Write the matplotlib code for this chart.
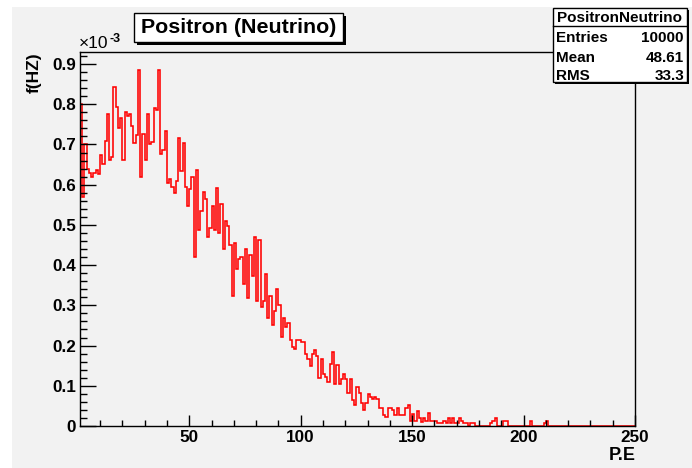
import numpy as np
import matplotlib
matplotlib.use("Agg")
import matplotlib.pyplot as plt
from matplotlib.patches import Rectangle
from matplotlib.ticker import MultipleLocator, FuncFormatter

plt.rcParams['font.family'] = ['Liberation Sans', 'DejaVu Sans']

# histogram contents, units of 1e-3 Hz, one bin per P.E starting at 1
rate_1_36 = [0.80, 0.57, 0.70, 0.64, 0.628, 0.62, 0.628, 0.637, 0.626, 0.674,
             0.651, 0.709, 0.776, 0.662, 0.668, 0.842, 0.794, 0.742, 0.765, 0.662,
             0.782, 0.771, 0.775, 0.746, 0.703, 0.724, 0.886, 0.620, 0.726, 0.662,
             0.776, 0.701, 0.706, 0.790, 0.785, 0.886]
rate_37_72 = [0.676, 0.687, 0.734, 0.604, 0.614, 0.595, 0.579, 0.608, 0.715, 0.633,
              0.703, 0.595, 0.548, 0.590, 0.618, 0.421, 0.637, 0.487, 0.535, 0.583,
              0.565, 0.469, 0.492, 0.546, 0.487, 0.593, 0.481, 0.552, 0.440, 0.510,
              0.498, 0.450, 0.323, 0.456, 0.391, 0.415]
rate_73_113 = [0.420, 0.353, 0.440, 0.318, 0.426, 0.372, 0.469, 0.311, 0.463, 0.295,
               0.311, 0.377, 0.268, 0.323, 0.251, 0.286, 0.341, 0.300, 0.221, 0.268,
               0.245, 0.257, 0.214, 0.197, 0.191, 0.214, 0.214, 0.208, 0.208, 0.179,
               0.166, 0.150, 0.179, 0.189, 0.173, 0.119, 0.166, 0.130, 0.123, 0.110,
               0.153]
rate_114_175 = [0.183, 0.104, 0.152, 0.104, 0.116, 0.129, 0.116, 0.081, 0.116, 0.065,
                0.051, 0.098, 0.083, 0.056, 0.041, 0.058, 0.080, 0.073, 0.067, 0.071,
                0.067, 0.046, 0.046, 0.028, 0.022, 0.046, 0.046, 0.040, 0.027, 0.044,
                0.027, 0.027, 0.027, 0.046, 0.051, 0.013, 0.030, 0.013, 0.038, 0.019,
                0.011, 0.019, 0.013, 0.032, 0.013, 0.013, 0.013, 0.0065, 0.0065, 0.0065,
                0.013, 0.0065, 0.019, 0.0065, 0.019, 0.0065, 0.0065, 0.019, 0.013, 0.0065,
                0.0065, 0.0]
rate_176_249 = [0.0065, 0.0065, 0, 0, 0, 0, 0, 0, 0, 0.0065,
                0.013, 0.0195, 0, 0, 0, 0.013, 0.013, 0, 0, 0,
                0, 0, 0, 0, 0, 0, 0, 0.013, 0, 0,
                0, 0, 0, 0.0065, 0.013, 0, 0, 0, 0, 0,
                0, 0, 0, 0, 0, 0, 0, 0, 0, 0,
                0, 0, 0, 0, 0, 0, 0, 0, 0, 0,
                0, 0, 0, 0, 0, 0, 0, 0, 0, 0,
                0, 0, 0, 0]

title = "Positron (Neutrino)"
stats_name = "PositronNeutrino"
stats_rows = [("Entries", "10000"), ("Mean", "48.61"), ("RMS", "33.3")]

rates = np.array(rate_1_36 + rate_37_72 + rate_73_113 + rate_114_175 + rate_176_249) * 1e-3
edges = np.arange(1, len(rates) + 2)

W, H = 692, 468
BG = '#f2f2f2'

fig = plt.figure(figsize=(W / 100, H / 100), dpi=100, facecolor='white')
fig.patches.append(Rectangle((12 / W, 0), (W - 12) / W, (H - 7) / H, transform=fig.transFigure,
                             facecolor=BG, edgecolor='none', zorder=-10))


def fx(px):
    return px / W


def fy(py):
    return 1 - py / H


ax = fig.add_axes([fx(80), fy(426), (635 - 80) / W, (426 - 52) / H])
ax.set_facecolor(BG)
ax.stairs(rates, edges, color='red', lw=1.15, baseline=0)
ax.set_xlim(1, 250)
ax.set_ylim(0, 0.93e-3)

for s in ax.spines.values():
    s.set_linewidth(1.0)
    s.set_color('black')

ax.xaxis.set_major_locator(MultipleLocator(50))
ax.xaxis.set_minor_locator(MultipleLocator(10))
ax.yaxis.set_major_locator(MultipleLocator(0.1e-3))
ax.yaxis.set_minor_locator(MultipleLocator(0.02e-3))
ax.yaxis.set_major_formatter(FuncFormatter(lambda v, p: '0' if abs(v) < 1e-9 else f'{v * 1e3:.1f}'))
ax.tick_params(which='both', direction='in', top=False, right=False, labelsize=12.3, pad=3)
ax.tick_params(axis='y', which='major', length=11.5, width=1)
ax.tick_params(axis='y', which='minor', length=5, width=1)
ax.tick_params(axis='x', which='major', length=8, width=1)
ax.tick_params(axis='x', which='minor', length=4, width=1)
for lab in ax.get_xticklabels() + ax.get_yticklabels():
    lab.set_fontweight('bold')

# exponent and axis titles
fig.text(fx(79), fy(51), "\u00d710", fontsize=12.5, ha='left', va='bottom')
fig.text(fx(110), fy(45), "-3", fontsize=9, fontweight='bold', ha='left', va='bottom')
fig.text(fx(34), fy(52), "f(HZ)", rotation=90, fontsize=12.5, fontweight='bold', ha='center', va='top')
fig.text(fx(636), fy(455), "P.E", fontsize=13, fontweight='bold', ha='right', va='center')

# title box with shadow
fig.patches.append(Rectangle((fx(137), fy(44.5)), (343 - 134) / W, (41.7 - 12.7) / H,
                             transform=fig.transFigure, facecolor='black', edgecolor='none', zorder=5))
fig.patches.append(Rectangle((fx(134), fy(41.7)), (343 - 134) / W, (41.7 - 12.7) / H,
                             transform=fig.transFigure, facecolor='white', edgecolor='black',
                             lw=1, zorder=6))
fig.text(fx(238.5), fy(27.5), title, fontsize=15.4, fontweight='bold', ha='center', va='center', zorder=7)

# stats box with shadow
bx0, bx1, by0, by1 = 552.7, 686.7, 8.3, 81.7
fig.patches.append(Rectangle((fx(bx0 + 2), fy(by1 + 2)), (bx1 - bx0) / W, (by1 - by0) / H,
                             transform=fig.transFigure, facecolor='black', edgecolor='none', zorder=5))
fig.patches.append(Rectangle((fx(bx0), fy(by1)), (bx1 - bx0) / W, (by1 - by0) / H,
                             transform=fig.transFigure, facecolor='white', edgecolor='black',
                             lw=1, zorder=6))
fig.add_artist(plt.Line2D([fx(bx0), fx(bx1)], [fy(25.7), fy(25.7)], color='black', lw=1,
                          transform=fig.transFigure, zorder=7))
fig.text(fx((bx0 + bx1) / 2), fy(17.5), stats_name, fontsize=11, fontweight='bold',
         ha='center', va='center', zorder=8)
for (name, val), yy in zip(stats_rows, [37.8, 58.5, 75.5]):
    fig.text(fx(556), fy(yy), name, fontsize=11, fontweight='bold', ha='left', va='center', zorder=8)
    fig.text(fx(684), fy(yy), val, fontsize=11, fontweight='bold', ha='right', va='center', zorder=8)

fig.savefig("out.png", dpi=100, facecolor=fig.get_facecolor())
